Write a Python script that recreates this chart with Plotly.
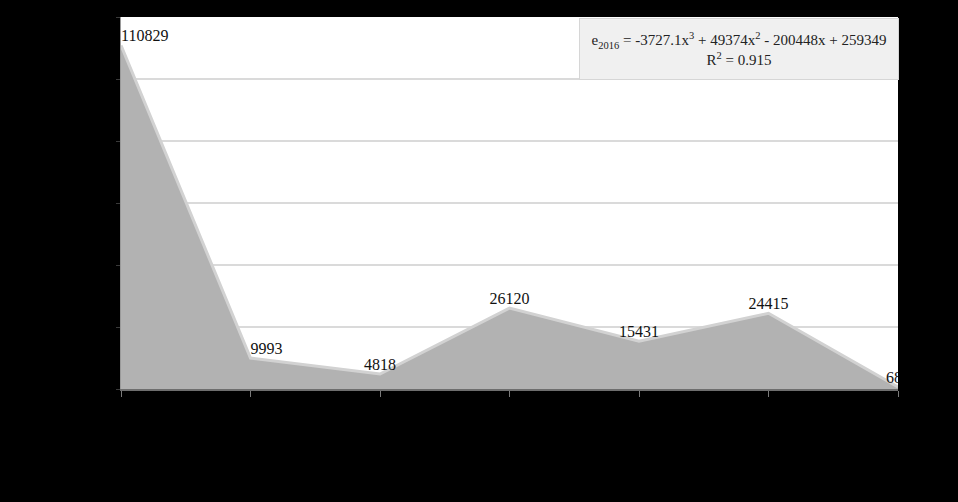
import plotly.graph_objects as go

categories = [0, 1, 2, 3, 4, 5, 6]
values = [110829, 9993, 4818, 26120, 15431, 24415, 685]
labels = ["110829", "9993", "4818", "26120", "15431", "24415", "685"]
text_pos = ["top right", "top right", "top center", "top center", "top center", "top center", "top center"]
y_ticks = [0, 20000, 40000, 60000, 80000, 100000, 120000]

fig = go.Figure()
fig.add_trace(go.Scatter(
    x=categories, y=values, mode="lines+text",
    fill="tozeroy", fillcolor="#b2b2b2",
    line=dict(color="#d2d2d2", width=3),
    text=labels, textposition=text_pos,
    textfont=dict(family="Liberation Serif", size=16, color="#111111"),
    cliponaxis=True, showlegend=False, hoverinfo="skip",
))

fig.update_layout(
    width=958, height=502,
    margin=dict(l=121, r=60, t=17, b=113),
    paper_bgcolor="#000000", plot_bgcolor="#ffffff",
    xaxis=dict(range=[0, 6], tickvals=categories, showticklabels=False,
               ticks="outside", ticklen=6, tickcolor="#7a7a7a", tickwidth=1,
               showgrid=False, zeroline=False, showline=True,
               linecolor="#6e6e6e", linewidth=2),
    yaxis=dict(range=[0, 120000], tickvals=y_ticks, showticklabels=False,
               ticks="outside", ticklen=4, tickcolor="#3a3a3a",
               showgrid=True, gridcolor="#dadada", gridwidth=2,
               zeroline=False, showline=True, linecolor="#9a9a9a", linewidth=1),
    annotations=[
        dict(xref="paper", yref="paper", x=0.795, y=0.914,
             xanchor="center", yanchor="middle", showarrow=False,
             width=314, height=56, bgcolor="#f0f0f0",
             bordercolor="#d6d6d6", borderwidth=1, borderpad=2,
             text="e<sub>2016</sub> = -3727.1x<sup>3</sup> + 49374x<sup>2</sup> - 200448x + 259349<br>R<sup>2</sup> = 0.915",
             font=dict(family="Liberation Serif", size=15, color="#222222"), align="center"),
    ],
)

fig.write_html("out.html")
